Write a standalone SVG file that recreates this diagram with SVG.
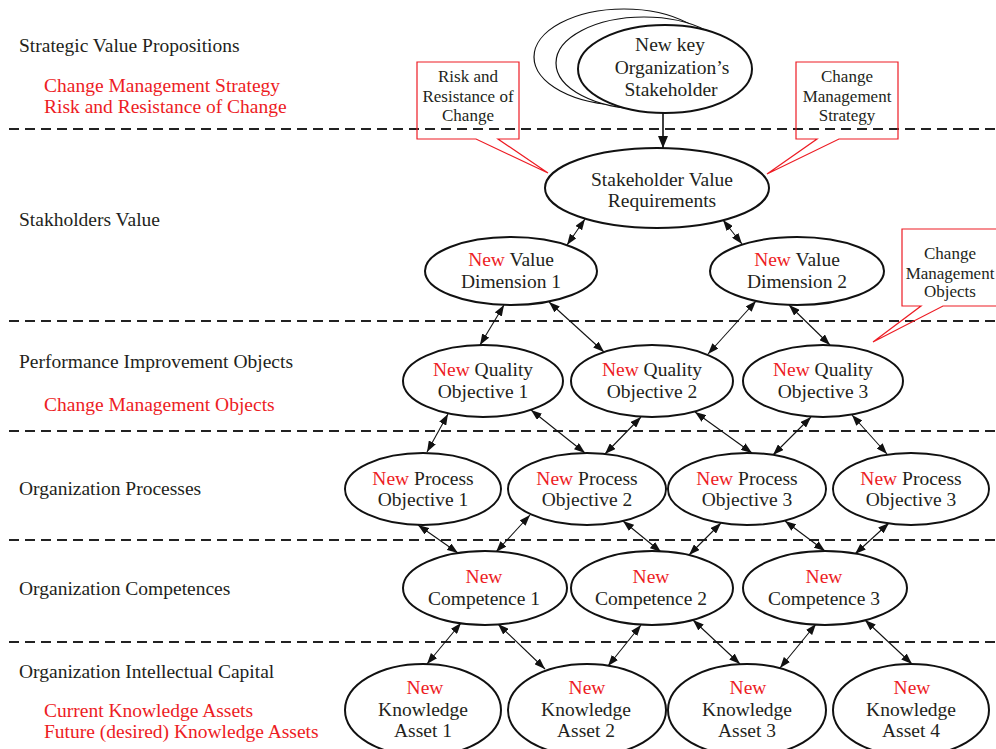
<svg xmlns="http://www.w3.org/2000/svg" width="996" height="749" viewBox="0 0 996 749">
  <style>
    text { font-family: "Liberation Serif", "Times New Roman", serif; fill: #231f20; }
    .lbl { font-size: 19.5px; }
    .red { fill: #ed1c24; }
    .call { font-size: 17px; text-anchor: middle; }
    .node { font-size: 19.5px; text-anchor: middle; }
    .ell { fill: #fff; stroke: #111; stroke-width: 2; }
    .back { fill: #fff; stroke: #111; stroke-width: 1.2; }
    .sep { stroke: #222; stroke-width: 2.2; stroke-dasharray: 10 6; fill: none; }
    .link { stroke: #111; stroke-width: 1.1; fill: none; marker-start: url(#ah); marker-end: url(#ah); }
    .callout { fill: none; stroke: #ed1c24; stroke-width: 1.2; }
  </style>
  <defs>
    <marker id="ah" viewBox="0 0 11 8" refX="11" refY="4" markerWidth="11" markerHeight="8" markerUnits="userSpaceOnUse" orient="auto-start-reverse">
      <path d="M0,0 L11,4 L0,8 z" fill="#111"/>
    </marker>
    <marker id="ahBig" viewBox="0 0 12 10" refX="12" refY="5" markerWidth="12" markerHeight="10" markerUnits="userSpaceOnUse" orient="auto">
      <path d="M0,0 L12,5 L0,10 z" fill="#111"/>
    </marker>
  </defs>

  <!-- layer separators -->
  <g id="separators">
    <line class="sep" x1="9" y1="129" x2="996" y2="129"/>
    <line class="sep" x1="9" y1="321" x2="996" y2="321"/>
    <line class="sep" x1="9" y1="431" x2="996" y2="431"/>
    <line class="sep" x1="9" y1="540" x2="996" y2="540"/>
    <line class="sep" x1="9" y1="642" x2="996" y2="642"/>
  </g>

  <!-- layer captions -->
  <g id="captions" class="lbl">
    <text x="19" y="52">Strategic Value Propositions</text>
    <text x="44" y="92" class="red">Change Management Strategy</text>
    <text x="44" y="113" class="red">Risk and Resistance of Change</text>
    <text x="19" y="226">Stakholders Value</text>
    <text x="19" y="368">Performance Improvement Objects</text>
    <text x="44" y="411" class="red">Change Management Objects</text>
    <text x="19" y="495">Organization Processes</text>
    <text x="19" y="595">Organization Competences</text>
    <text x="19" y="678">Organization Intellectual Capital</text>
    <text x="44" y="717" class="red">Current Knowledge Assets</text>
    <text x="44" y="738" class="red">Future (desired) Knowledge Assets</text>
  </g>

  <!-- callouts -->
  <g id="callout-risk">
    <path class="callout" d="M417,62 H519 V139 H498 L548,173 L476,139 H417 Z"/>
    <text class="call" x="468" y="82">Risk and</text>
    <text class="call" x="468" y="102">Resistance of</text>
    <text class="call" x="468" y="121">Change</text>
  </g>
  <g id="callout-strategy">
    <path class="callout" d="M796,62 H898 V139 H839 L767,174 L817,139 H796 Z"/>
    <text class="call" x="847" y="82">Change</text>
    <text class="call" x="847" y="102">Management</text>
    <text class="call" x="847" y="121">Strategy</text>
  </g>
  <g id="callout-objects">
    <path class="callout" d="M902,229 H1005 V306 H943 L873,342 L921,306 H902 Z"/>
    <text class="call" x="950" y="259">Change</text>
    <text class="call" x="950" y="279">Management</text>
    <text class="call" x="950" y="297">Objects</text>
  </g>

  <!-- connectors -->
  <g id="connectors">
    <line x1="663" y1="113" x2="663" y2="148" stroke="#111" stroke-width="1.6" marker-end="url(#ahBig)"/>
    <line class="link" x1="585" y1="219" x2="567" y2="245"/>
    <line class="link" x1="723" y1="220" x2="742" y2="244"/>

    <line class="link" x1="504" y1="305" x2="480" y2="345"/>
    <line class="link" x1="549" y1="302" x2="604" y2="352"/>
    <line class="link" x1="756" y1="301" x2="708" y2="354"/>
    <line class="link" x1="789" y1="305" x2="830" y2="345"/>

    <line class="link" x1="448" y1="414" x2="427" y2="452"/>
    <line class="link" x1="531" y1="410" x2="585" y2="453"/>
    <line class="link" x1="641" y1="417" x2="605" y2="454"/>
    <line class="link" x1="695" y1="412" x2="752" y2="453"/>
    <line class="link" x1="811" y1="417" x2="773" y2="455"/>
    <line class="link" x1="852" y1="415" x2="887" y2="454"/>

    <line class="link" x1="418" y1="525" x2="458" y2="553"/>
    <line class="link" x1="530" y1="515" x2="496" y2="552"/>
    <line class="link" x1="623" y1="521" x2="661" y2="552"/>
    <line class="link" x1="721" y1="523" x2="689" y2="555"/>
    <line class="link" x1="785" y1="521" x2="825" y2="551"/>
    <line class="link" x1="889" y1="523" x2="855" y2="554"/>

    <line class="link" x1="461" y1="623" x2="427" y2="664"/>
    <line class="link" x1="498" y1="624" x2="545" y2="669"/>
    <line class="link" x1="641" y1="625" x2="608" y2="666"/>
    <line class="link" x1="693" y1="620" x2="740" y2="664"/>
    <line class="link" x1="816" y1="624" x2="780" y2="668"/>
    <line class="link" x1="865" y1="620" x2="912" y2="664"/>
  </g>

  <!-- stakeholder stack -->
  <g id="node-stakeholder">
    <ellipse class="back" cx="624" cy="57" rx="90" ry="48"/>
    <ellipse class="back" cx="644" cy="63" rx="88" ry="46"/>
    <ellipse class="ell" cx="665" cy="69" rx="87" ry="44"/>
    <text class="node" x="670" y="51">New key</text>
    <text class="node" x="672" y="74">Organization’s</text>
    <text class="node" x="671" y="96">Stakeholder</text>
  </g>

  <g id="node-svr">
    <ellipse class="ell" cx="657" cy="188" rx="112" ry="40"/>
    <text class="node" x="662" y="186">Stakeholder Value</text>
    <text class="node" x="662" y="207">Requirements</text>
  </g>

  <!-- value dimensions -->
  <g id="node-vd1">
    <ellipse class="ell" cx="511" cy="271" rx="86" ry="34"/>
    <text class="node" x="511" y="266"><tspan class="red">New</tspan> Value</text>
    <text class="node" x="511" y="288">Dimension 1</text>
  </g>
  <g id="node-vd2">
    <ellipse class="ell" cx="797" cy="271" rx="87" ry="34"/>
    <text class="node" x="797" y="266"><tspan class="red">New</tspan> Value</text>
    <text class="node" x="797" y="288">Dimension 2</text>
  </g>

  <!-- quality objectives -->
  <g id="node-q1">
    <ellipse class="ell" cx="483" cy="381" rx="80" ry="36"/>
    <text class="node" x="483" y="376"><tspan class="red">New</tspan> Quality</text>
    <text class="node" x="483" y="398">Objective 1</text>
  </g>
  <g id="node-q2">
    <ellipse class="ell" cx="652" cy="381" rx="81" ry="36"/>
    <text class="node" x="652" y="376"><tspan class="red">New</tspan> Quality</text>
    <text class="node" x="652" y="398">Objective 2</text>
  </g>
  <g id="node-q3">
    <ellipse class="ell" cx="823" cy="381" rx="80" ry="36"/>
    <text class="node" x="823" y="376"><tspan class="red">New</tspan> Quality</text>
    <text class="node" x="823" y="398">Objective 3</text>
  </g>

  <!-- process objectives -->
  <g id="node-p1">
    <ellipse class="ell" cx="423" cy="489" rx="78" ry="36"/>
    <text class="node" x="423" y="485"><tspan class="red">New</tspan> Process</text>
    <text class="node" x="423" y="506">Objective 1</text>
  </g>
  <g id="node-p2">
    <ellipse class="ell" cx="587" cy="489" rx="79" ry="36"/>
    <text class="node" x="587" y="485"><tspan class="red">New</tspan> Process</text>
    <text class="node" x="587" y="506">Objective 2</text>
  </g>
  <g id="node-p3">
    <ellipse class="ell" cx="747" cy="489" rx="79" ry="36"/>
    <text class="node" x="747" y="485"><tspan class="red">New</tspan> Process</text>
    <text class="node" x="747" y="506">Objective 3</text>
  </g>
  <g id="node-p4">
    <ellipse class="ell" cx="911" cy="489" rx="78" ry="36"/>
    <text class="node" x="911" y="485"><tspan class="red">New</tspan> Process</text>
    <text class="node" x="911" y="506">Objective 3</text>
  </g>

  <!-- competences -->
  <g id="node-c1">
    <ellipse class="ell" cx="485" cy="588" rx="82" ry="37"/>
    <text class="node red" x="484" y="583">New</text>
    <text class="node" x="484" y="605">Competence 1</text>
  </g>
  <g id="node-c2">
    <ellipse class="ell" cx="652" cy="588" rx="81" ry="37"/>
    <text class="node red" x="651" y="583">New</text>
    <text class="node" x="651" y="605">Competence 2</text>
  </g>
  <g id="node-c3">
    <ellipse class="ell" cx="825" cy="588" rx="82" ry="37"/>
    <text class="node red" x="824" y="583">New</text>
    <text class="node" x="824" y="605">Competence 3</text>
  </g>

  <!-- knowledge assets -->
  <g id="node-k1">
    <ellipse class="ell" cx="423" cy="710" rx="78" ry="46"/>
    <text class="node red" x="425" y="694">New</text>
    <text class="node" x="423" y="716">Knowledge</text>
    <text class="node" x="423" y="737">Asset 1</text>
  </g>
  <g id="node-k2">
    <ellipse class="ell" cx="587" cy="710" rx="79" ry="46"/>
    <text class="node red" x="587" y="694">New</text>
    <text class="node" x="586" y="716">Knowledge</text>
    <text class="node" x="586" y="737">Asset 2</text>
  </g>
  <g id="node-k3">
    <ellipse class="ell" cx="747" cy="710" rx="79" ry="46"/>
    <text class="node red" x="748" y="694">New</text>
    <text class="node" x="747" y="716">Knowledge</text>
    <text class="node" x="747" y="737">Asset 3</text>
  </g>
  <g id="node-k4">
    <ellipse class="ell" cx="911" cy="710" rx="78" ry="46"/>
    <text class="node red" x="912" y="694">New</text>
    <text class="node" x="911" y="716">Knowledge</text>
    <text class="node" x="911" y="737">Asset 4</text>
  </g>
</svg>
